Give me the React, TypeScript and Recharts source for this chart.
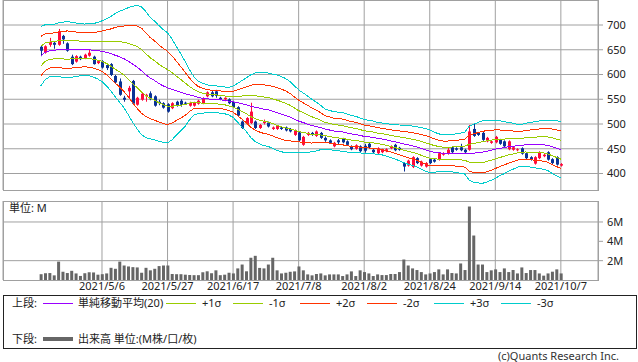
import { ComposedChart, Bar, Line, XAxis, YAxis, CartesianGrid } from "recharts";

// daily OHLC (index 0 = first trading day shown)
const openP = [656,644,660,664,660,678,663,636,626,636,633,638,636,623,627,619,621,597,586,553,566,587,539,549,556,562,556,545,542,540,532,545,547,543,537,537,541,542,556,564,566,553,550,550,545,534,505,500,502,505,492,502,503,490,490,493,493,490,478,483,458,478,482,476,482,472,467,455,467,470,465,455,450,455,456,460,448,441,443,445,451,458,452,421,416,413,431,416,414,429,428,428,438,440,453,451,453,448,448,490,482,482,465,462,463,468,465,449,448,447,451,441,433,420,431,435,443,429,433,416];
const highP = [658,659,674,666,692,680,665,640,639,638,642,650,638,629,629,623,623,599,592,557,577,589,555,564,561,566,558,549,544,542,544,547,550,545,545,545,549,554,566,567,569,555,554,552,547,536,507,514,543,507,500,509,505,495,498,495,495,492,489,485,476,484,484,487,484,475,469,464,470,472,467,457,459,457,460,462,450,453,450,451,457,460,454,423,428,435,433,426,423,431,430,443,443,452,455,453,460,450,498,500,484,484,474,467,476,470,467,467,455,451,453,443,435,435,445,440,445,431,435,421];
const lowP = [637,642,656,652,658,662,646,619,624,629,631,636,620,621,612,609,597,582,557,545,551,539,537,547,545,548,535,538,531,523,530,535,535,539,535,535,539,540,554,554,553,548,546,540,532,515,490,498,500,490,490,499,493,488,488,488,485,483,476,465,456,476,476,474,470,464,460,453,458,461,456,447,448,443,442,451,441,439,441,443,449,445,446,404,414,411,419,414,412,419,422,426,436,438,441,446,445,441,446,474,476,466,463,460,461,458,453,447,446,445,438,429,426,418,429,433,426,419,416,414];
const closeP = [648,657,666,660,686,671,648,621,637,631,640,644,621,627,614,613,599,584,559,549,573,541,553,561,559,550,537,542,533,525,542,537,539,541,543,543,547,552,564,556,557,550,553,542,534,517,492,512,525,492,498,505,495,493,496,490,487,485,487,467,474,482,478,485,472,467,462,462,463,463,458,449,457,445,446,453,443,451,448,449,455,447,448,414,426,433,421,424,421,421,424,441,441,448,443,448,447,443,485,476,478,468,472,465,474,460,455,465,453,449,440,431,428,433,443,438,428,421,418,419];

// volume, millions of shares
const volM = [0.6,0.7,0.72,0.48,1.9,0.85,0.72,0.95,0.68,0.42,0.7,0.8,0.78,0.55,0.6,0.68,1.26,1.16,1.9,1.5,1.4,1.33,1.3,0.75,1.26,1.0,1.16,1.44,1.5,1.5,0.62,0.6,0.6,0.55,0.52,0.5,0.5,0.8,0.9,0.7,1.0,0.5,0.55,0.75,0.68,1.2,1.6,0.9,2.3,2.5,1.25,1.2,1.6,2.3,1.0,0.68,0.75,0.85,0.89,1.4,1.0,0.58,0.48,0.62,0.68,0.48,0.58,0.58,0.58,0.41,0.58,0.89,0.41,1.0,0.82,0.68,0.41,0.58,0.51,0.51,0.62,0.62,0.82,2.12,1.5,1.2,1.03,0.82,0.58,0.68,0.82,1.1,0.58,1.1,0.72,0.68,1.71,1.03,7.6,4.6,1.6,1.6,0.82,1.0,1.1,0.82,1.2,0.82,1.03,0.68,1.3,0.72,1.03,1.03,0.68,0.45,0.68,0.86,1.1,0.68];

// 20-day moving average and its standard deviation (Bollinger)
const sma20 = [637,645,648,649,650,650,650,650,650,650,650,650,649,648,647,645,642,639,636,632,627,621,615,608,600,593,588,582,577,573,570,567,564,561,559,557,554,552,551,550,550,549,548,546,545,543,541,539,536,534,532,530,529,526,523,520,517,514,510,506,503,500,497,495,493,490,488,486,485,484,482,480,479,477,475,474,473,471,470,468,466,464,462,460,458,456,454,451,448,445,443,442,441,441,441,441,441,441,441,441,442,443,445,447,449,451,452,454,455,456,457,458,458,458,458,458,457,454,451,448];
const sigma = [20,18.5,17.5,17.5,18,18.5,19,18.5,18,17.5,17.3,17.5,18,19,20.5,22.5,25,28,30.5,33,36,39,41.5,43,42.5,41,40,39,38,37,34,30,26,22,17,13,11,10,9.5,9,9,9,9,9.3,10.5,13,15.5,18,21,23,24,24.5,24.7,25,25.3,25.3,25,24,22.5,21,20,19,17.7,16.5,15,13.5,13.2,13,13,13,12.8,12.5,12.2,11.8,11.5,11.2,11,10.8,10.7,10.9,11.2,11.5,12,12.6,13,13.3,13.5,14,14.3,14.5,13.5,12.8,12.3,12.3,12.5,13,13.5,14,18,19.5,20.3,21,20.8,20.3,19.5,18.5,17.5,16.5,15.5,14.5,14,14.5,15,15.5,16,16.5,17,18,18.5,19];

const tickIdx = [14, 29, 44, 59, 74, 89, 104, 119];
const tickLabels = ["2021/5/6", "2021/5/27", "2021/6/17", "2021/7/8", "2021/8/2", "2021/8/24", "2021/9/14", "2021/10/7"];
const priceTicks = [400, 450, 500, 550, 600, 650, 700];
const volTicks = [2, 4, 6];

const bandItems = ["+1σ", "-1σ", "+2σ", "-2σ", "+3σ", "-3σ"];

const FONT = "'Noto Sans', 'Noto Sans CJK JP', sans-serif";
const GRID = "#a0a0a0";
const UP = "#ff0a3c";
const DOWN = "#0a3296";
const C_SMA = "#9a00ff";
const C_1 = "#99cc00";
const C_2 = "#ff3300";
const C_3 = "#00cccc";
const bandColors = [C_1, C_1, C_2, C_2, C_3, C_3];

const rows = openP.map((o, i) => ({
  i,
  open: o,
  high: highP[i],
  low: lowP[i],
  close: closeP[i],
  vol: volM[i],
  sma: sma20[i],
  u1: sma20[i] + sigma[i],
  d1: sma20[i] - sigma[i],
  u2: sma20[i] + 2 * sigma[i],
  d2: sma20[i] - 2 * sigma[i],
  u3: sma20[i] + 3 * sigma[i],
  d3: sma20[i] - 3 * sigma[i],
}));

const X_DOMAIN: [number, number] = [-8.65, 127.5];

function Candle(props: any) {
  const { x, y, width, height, payload } = props;
  if (x == null || y == null) return null;
  const { open, close, high, low } = payload;
  const span = high - low || 1;
  const px = (v: number) => y + ((high - v) / span) * height;
  const color = close >= open ? UP : DOWN;
  const cx = Math.round(x + width / 2) + 0.5;
  const top = px(Math.max(open, close));
  const bot = px(Math.min(open, close));
  return (
    <g>
      <line x1={cx} x2={cx} y1={y} y2={y + height} stroke={color} strokeWidth={1} />
      <rect x={cx - 1.5} y={top} width={3} height={Math.max(1, bot - top)} fill={color} />
    </g>
  );
}

function band(key: string, color: string) {
  return (
    <Line
      key={key}
      dataKey={key}
      type="linear"
      stroke={color}
      strokeWidth={1}
      dot={false}
      activeDot={false}
      shapeRendering="crispEdges"
      isAnimationActive={false}
    />
  );
}

const tickText = { fontSize: 11, fill: "#222", fontFamily: FONT };

export default function App() {
  const frame = { position: "absolute" as const, border: `1px solid ${GRID}`, boxSizing: "border-box" as const, pointerEvents: "none" as const };
  return (
    <div style={{ position: "absolute", left: 0, top: 0, width: 638, height: 362, background: "#fff", fontFamily: FONT, overflow: "hidden" }}>
      {/* price + bollinger */}
      <div style={{ position: "absolute", left: 0, top: 0 }}>
        <ComposedChart width={638} height={191} data={rows} margin={{ top: 0, right: 0, bottom: 1, left: 3 }}>
          <CartesianGrid stroke={GRID} horizontalValues={priceTicks} />
          <XAxis dataKey="i" type="number" domain={X_DOMAIN} ticks={tickIdx} hide allowDataOverflow />
          <YAxis
            orientation="right"
            width={40}
            domain={[366.7, 750.5]}
            ticks={priceTicks}
            allowDataOverflow
            axisLine={false}
            tickLine={{ stroke: GRID }}
            tickSize={5}
            tickMargin={4}
            tick={tickText}
          />
          {band("d3", C_3)}
          {band("u3", C_3)}
          {band("d2", C_2)}
          {band("u2", C_2)}
          {band("d1", C_1)}
          {band("u1", C_1)}
          {band("sma", C_SMA)}
          <Bar dataKey={(d: any) => [d.low, d.high]} barSize={3} shape={<Candle />} isAnimationActive={false} />
        </ComposedChart>
      </div>
      <div style={{ ...frame, left: 3, top: 0, width: 596, height: 191 }} />

      {/* volume */}
      <div style={{ position: "absolute", left: 0, top: 195 }}>
        <ComposedChart width={638} height={101} data={rows} margin={{ top: 6, right: 0, bottom: 0, left: 3 }}>
          <CartesianGrid stroke={GRID} horizontalValues={volTicks} />
          <XAxis
            dataKey="i"
            type="number"
            domain={X_DOMAIN}
            ticks={tickIdx}
            allowDataOverflow
            height={16}
            axisLine={false}
            tickLine={false}
            tickSize={0}
            tickMargin={2}
            interval={0}
            tick={tickText}
            tickFormatter={(v: number) => tickLabels[tickIdx.indexOf(v)] ?? ""}
          />
          <YAxis
            orientation="right"
            width={40}
            domain={[0, 8.17]}
            ticks={volTicks}
            allowDataOverflow
            axisLine={false}
            tickLine={{ stroke: GRID }}
            tickSize={5}
            tickMargin={4}
            tick={tickText}
            tickFormatter={(v: number) => `${v}M`}
          />
          <Bar dataKey="vol" barSize={3} fill="#666666" isAnimationActive={false} />
        </ComposedChart>
      </div>
      <div style={{ ...frame, left: 3, top: 201, width: 596, height: 80 }} />
      <div style={{ position: "absolute", left: 9, top: 201, fontSize: 11, lineHeight: "14px", color: "#222" }}>単位: M</div>

      {/* legend */}
      <div style={{ position: "absolute", left: 3, top: 295, width: 634, height: 54, border: "1px solid #222", boxSizing: "border-box" }} />
      <LegendRow y={303} head="上段:" lineColor={C_SMA} lineW={1} label="単純移動平均(20)" />
      {bandItems.map((t, k) => (
        <div key={t}>
          <div style={{ position: "absolute", left: 166 + 67 * k, top: 303, width: 30, height: 1, background: bandColors[k] }} />
          <div style={{ position: "absolute", left: 202 + 67 * k, top: 296, fontSize: 11, lineHeight: "14px", color: "#222" }}>{t}</div>
        </div>
      ))}
      <LegendRow y={339} head="下段:" lineColor="#666666" lineW={4} label="出来高 単位:(M株/口/枚)" />

      <div style={{ position: "absolute", right: 19, top: 350, fontSize: 11, lineHeight: "12px", color: "#333" }}>(c)Quants Research Inc.</div>
    </div>
  );
}

function LegendRow({ y, head, lineColor, lineW, label }: { y: number; head: string; lineColor: string; lineW: number; label: string }) {
  return (
    <>
      <div style={{ position: "absolute", left: 12, top: y - 7, fontSize: 11, lineHeight: "14px", color: "#222" }}>{head}</div>
      <div style={{ position: "absolute", left: 43, top: y - Math.floor(lineW / 2), width: 30, height: lineW, background: lineColor }} />
      <div style={{ position: "absolute", left: 78, top: y - 7, fontSize: 11, lineHeight: "14px", color: "#222" }}>{label}</div>
    </>
  );
}
